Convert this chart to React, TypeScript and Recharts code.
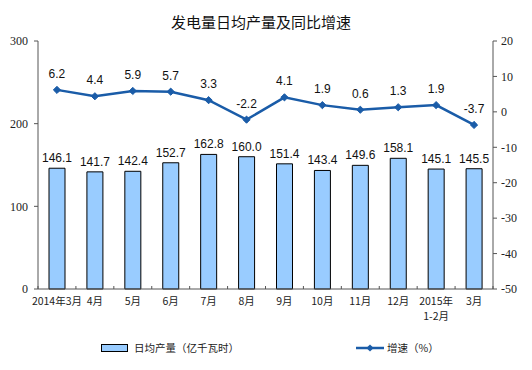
import { Bar, ComposedChart, LabelList, Line, XAxis, YAxis } from 'recharts'

const months = ['2014年3月', '4月', '5月', '6月', '7月', '8月', '9月', '10月', '11月', '12月', '2015年\n1-2月', '3月']
const dailyOutput = [146.1, 141.7, 142.4, 152.7, 162.8, 160.0, 151.4, 143.4, 149.6, 158.1, 145.1, 145.5]
const growthRate = [6.2, 4.4, 5.9, 5.7, 3.3, -2.2, 4.1, 1.9, 0.6, 1.3, 1.9, -3.7]
const leftTicks = [0, 100, 200, 300]
const rightTicks = [-50, -40, -30, -20, -10, 0, 10, 20]

const data = months.map((m, i) => ({ month: m, output: dailyOutput[i], growth: growthRate[i] }))

const W = 532
const H = 370
const PLOT_LEFT = 38
const PLOT_RIGHT = 493
const BAND = (PLOT_RIGHT - PLOT_LEFT) / months.length
const LINE_COLOR = '#1a5ca8'
const BAR_FILL = '#99ccff'
const CJK = '"Noto Sans CJK SC", sans-serif'
const SERIF = '"Liberation Serif", serif'
const SANS = '"Liberation Sans", Arial, sans-serif'

function MonthTick({ x, y, payload, index }: any) {
  const lines = String(payload.value).split('\n')
  const left = x - BAND / 2
  return (
    <g>
      <line x1={left} y1={y} x2={left} y2={y - 3} stroke="#555" />
      {index === months.length - 1 && (
        <line x1={x + BAND / 2} y1={y} x2={x + BAND / 2} y2={y - 3} stroke="#555" />
      )}
      {lines.map((t, i) => (
        <text key={i} x={x} y={y + 16 + i * 15} textAnchor="middle" fontSize={10.5} fontFamily={CJK} fill="#222">
          {t}
        </text>
      ))}
    </g>
  )
}

function Diamond({ cx, cy }: any) {
  if (cx == null || cy == null) return null
  const r = 3.6
  return (
    <polygon
      points={`${cx},${cy - r} ${cx + r},${cy} ${cx},${cy + r} ${cx - r},${cy}`}
      fill={LINE_COLOR}
      stroke={LINE_COLOR}
    />
  )
}

export default function App() {
  return (
    <div style={{ position: 'absolute', left: 0, top: 0, width: W, height: H, background: '#fff' }}>
      <div
        style={{
          position: 'absolute',
          left: 0,
          top: 11,
          width: 522,
          textAlign: 'center',
          fontFamily: CJK,
          fontSize: 15,
          color: '#111',
        }}
      >
        发电量日均产量及同比增速
      </div>
      <ComposedChart width={W} height={H} data={data} margin={{ top: 41, right: 7, left: 8, bottom: 41 }}>
        <XAxis
          dataKey="month"
          interval={0}
          tickSize={0}
          tickMargin={0}
          tickLine={false}
          axisLine={{ stroke: '#555' }}
          height={40}
          tick={<MonthTick />}
        />
        <YAxis
          yAxisId="left"
          domain={[0, 300]}
          ticks={leftTicks}
          width={30}
          tickSize={4}
          tickMargin={6}
          axisLine={{ stroke: '#555' }}
          tickLine={{ stroke: '#555' }}
          tick={{ fontSize: 12, fontFamily: SERIF, fill: '#222' }}
        />
        <YAxis
          yAxisId="right"
          orientation="right"
          domain={[-50, 20]}
          ticks={rightTicks}
          width={32}
          tickSize={4}
          tickMargin={4}
          axisLine={{ stroke: '#555' }}
          tickLine={{ stroke: '#555' }}
          tick={{ fontSize: 12, fontFamily: SERIF, fill: '#222' }}
        />
        <Bar yAxisId="left" dataKey="output" fill={BAR_FILL} stroke="#000" strokeWidth={1} barSize={16} isAnimationActive={false}>
          <LabelList
            dataKey="output"
            position="top"
            offset={6}
            formatter={(v: any) => Number(v).toFixed(1)}
            style={{ fontSize: 12, fontFamily: SANS, fill: '#111' }}
          />
        </Bar>
        <Line
          yAxisId="right"
          dataKey="growth"
          stroke={LINE_COLOR}
          strokeWidth={2.5}
          dot={<Diamond />}
          activeDot={false}
          isAnimationActive={false}
        >
          <LabelList
            dataKey="growth"
            position="top"
            offset={12}
            formatter={(v: any) => Number(v).toFixed(1)}
            style={{ fontSize: 12, fontFamily: SANS, fill: '#111' }}
          />
        </Line>
      </ComposedChart>
      <div
        style={{
          position: 'absolute',
          top: 340,
          left: 101,
          display: 'flex',
          alignItems: 'center',
          fontFamily: CJK,
          fontSize: 10.5,
          color: '#222',
        }}
      >
        <span style={{ width: 25, height: 6, background: BAR_FILL, border: '1px solid #000', marginRight: 6 }} />
        日均产量（亿千瓦时）
      </div>
      <div
        style={{
          position: 'absolute',
          top: 340,
          left: 356,
          display: 'flex',
          alignItems: 'center',
          fontFamily: CJK,
          fontSize: 10.5,
          color: '#222',
        }}
      >
        <svg width={28} height={10} style={{ marginRight: 3 }}>
          <line x1={0} y1={5} x2={28} y2={5} stroke={LINE_COLOR} strokeWidth={2.5} />
          <polygon points="14,1.4 17.6,5 14,8.6 10.4,5" fill={LINE_COLOR} />
        </svg>
        增速（%）
      </div>
    </div>
  )
}
